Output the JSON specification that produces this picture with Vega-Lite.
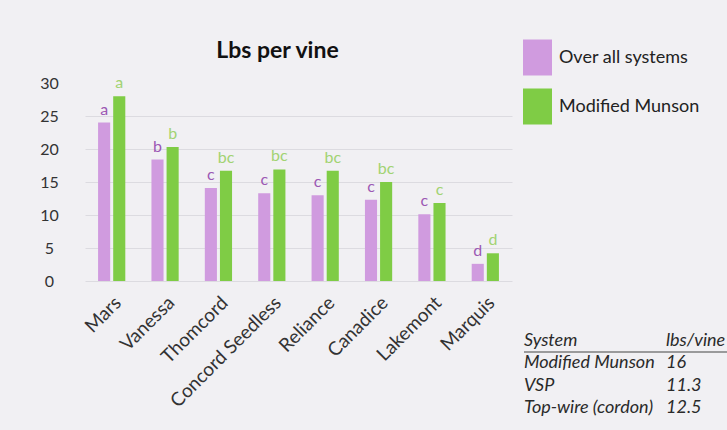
{
  "$schema": "https://vega.github.io/schema/vega-lite/v6.json",
  "background": "#f1f0f3",
  "padding": {"left": 39, "top": 40, "right": 0, "bottom": 14},
  "config": {"font": "Lato", "view": {"stroke": null}},
  "spacing": 12,
  "bounds": "flush",
  "hconcat": [
    {
      "width": 427,
      "height": 198,
      "title": {"text": "Lbs per vine", "fontSize": 23, "fontWeight": "bold", "color": "#111", "dx": -21, "offset": 12},
      "data": {"values": [
        {"variety": "Mars", "series": "Over all systems", "value": 24.0, "letter": "a"},
        {"variety": "Mars", "series": "Modified Munson", "value": 28.0, "letter": "a"},
        {"variety": "Vanessa", "series": "Over all systems", "value": 18.4, "letter": "b"},
        {"variety": "Vanessa", "series": "Modified Munson", "value": 20.3, "letter": "b"},
        {"variety": "Thomcord", "series": "Over all systems", "value": 14.1, "letter": "c"},
        {"variety": "Thomcord", "series": "Modified Munson", "value": 16.7, "letter": "bc"},
        {"variety": "Concord Seedless", "series": "Over all systems", "value": 13.3, "letter": "c"},
        {"variety": "Concord Seedless", "series": "Modified Munson", "value": 16.9, "letter": "bc"},
        {"variety": "Reliance", "series": "Over all systems", "value": 13.0, "letter": "c"},
        {"variety": "Reliance", "series": "Modified Munson", "value": 16.7, "letter": "bc"},
        {"variety": "Canadice", "series": "Over all systems", "value": 12.3, "letter": "c"},
        {"variety": "Canadice", "series": "Modified Munson", "value": 15.0, "letter": "bc"},
        {"variety": "Lakemont", "series": "Over all systems", "value": 10.1, "letter": "c"},
        {"variety": "Lakemont", "series": "Modified Munson", "value": 11.8, "letter": "c"},
        {"variety": "Marquis", "series": "Over all systems", "value": 2.6, "letter": "d"},
        {"variety": "Marquis", "series": "Modified Munson", "value": 4.2, "letter": "d"}
      ]},
      "encoding": {
        "x": {
          "field": "variety", "type": "nominal",
          "sort": ["Mars", "Vanessa", "Thomcord", "Concord Seedless", "Reliance", "Canadice", "Lakemont", "Marquis"],
          "scale": {"paddingInner": 0.49, "paddingOuter": 0.245},
          "axis": {"title": null, "labelAngle": -45, "labelFontSize": 19, "labelColor": "#333", "domain": false, "ticks": false, "tickSize": 0, "labelPadding": 12}
        },
        "xOffset": {"field": "series", "type": "nominal", "sort": ["Over all systems", "Modified Munson"], "scale": {"paddingInner": 0.2, "paddingOuter": 0}},
        "y": {
          "field": "value", "type": "quantitative",
          "scale": {"domain": [0, 30]},
          "axis": {"title": null, "values": [0, 5, 10, 15, 20, 25, 30], "labelFontSize": 16, "labelColor": "#333", "domain": false, "ticks": false, "tickSize": 0, "labelAlign": "center", "labelPadding": 36, "gridColor": "#dcdbe0", "gridOpacity": {"condition": {"test": "datum.value === 30", "value": 0}, "value": 1}}
        }
      },
      "layer": [
        {
          "mark": {"type": "bar"},
          "encoding": {
            "color": {
              "field": "series", "type": "nominal",
              "scale": {"domain": ["Over all systems", "Modified Munson"], "range": ["#d09bdf", "#7fcc45"]},
              "legend": {"orient": "none", "legendX": 438, "legendY": -40, "title": null, "symbolType": "M-1,-1.24H1V1.24H-1Z", "symbolSize": 841, "symbolStrokeWidth": 0, "symbolOpacity": 1, "labelFontSize": 18, "labelColor": "#222", "rowPadding": 12, "labelOffset": 7, "padding": 0, "labelLimit": 300}
            }
          }
        },
        {
          "mark": {"type": "text", "baseline": "bottom", "dy": -5, "fontSize": 16},
          "encoding": {
            "text": {"field": "letter"},
            "color": {"condition": {"test": "datum.series === 'Over all systems'", "value": "#9c58b4"}, "value": "#a2d372"}
          }
        }
      ]
    },
    {
      "width": 204,
      "height": 325,
      "data": {"values": [
        {"row": 0, "col": "System", "text": "System"},
        {"row": 0, "col": "lbs/vine", "text": "lbs/vine"},
        {"row": 1, "col": "System", "text": "Modified Munson"},
        {"row": 1, "col": "lbs/vine", "text": "16"},
        {"row": 2, "col": "System", "text": "VSP"},
        {"row": 2, "col": "lbs/vine", "text": "11.3"},
        {"row": 3, "col": "System", "text": "Top-wire (cordon)"},
        {"row": 3, "col": "lbs/vine", "text": "12.5"}
      ]},
      "encoding": {
        "y": {"field": "row", "type": "ordinal", "scale": {"type": "point", "range": [258, 325], "padding": 0}, "axis": null}
      },
      "layer": [
        {
          "mark": {"type": "text", "align": "left", "baseline": "middle", "fontSize": 18, "fontStyle": "italic", "color": "#2a2a2a"},
          "encoding": {
            "x": {"field": "col", "type": "nominal", "sort": ["System", "lbs/vine"], "scale": {"type": "point", "range": [0, 142], "padding": 0}, "axis": null},
            "text": {"field": "text"}
          }
        },
        {
          "transform": [{"filter": "datum.row === 0 && datum.col === 'System'"}],
          "mark": {"type": "rule", "yOffset": 11, "color": "#444", "strokeWidth": 1.2}
        }
      ]
    }
  ]
}
